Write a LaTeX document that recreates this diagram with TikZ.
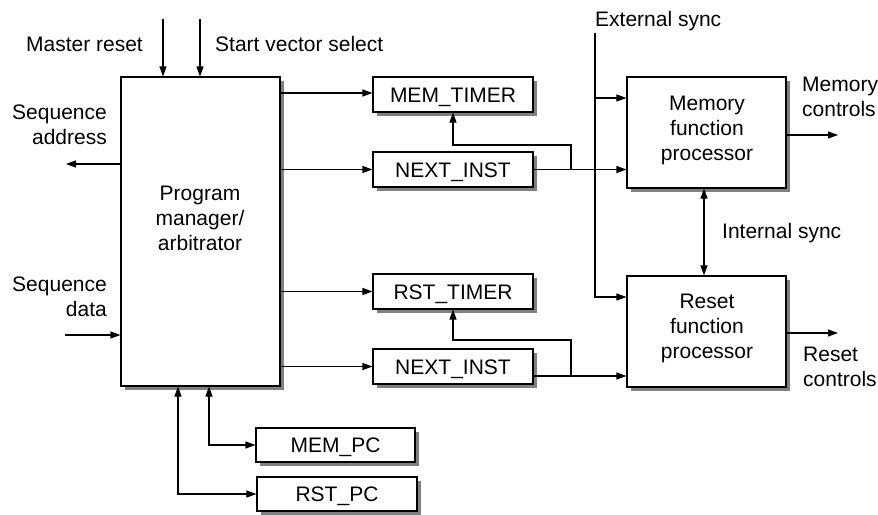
\documentclass[tikz,border=0pt]{standalone}
\usepackage{fontspec}
\setmainfont{Liberation Sans}
\usetikzlibrary{arrows.meta,shadows}
\begin{document}
\begin{tikzpicture}[x=1pt,y=-1pt,
  every node/.style={font=\fontsize{21}{25}\selectfont, inner sep=0pt},
  blk/.style={draw, line width=1.1pt, fill=white, text height=15pt, text depth=0pt,
    drop shadow={shadow xshift=3.5pt, shadow yshift=-3.5pt, fill=black!50, opacity=1}},
  txt/.style={align=center},
  wire/.style={line width=1.1pt},
  arr/.style={wire, -{Triangle[length=10pt,width=7pt]}},
  darr/.style={wire, {Triangle[length=10pt,width=7pt]}-{Triangle[length=10pt,width=7pt]}}]
\useasboundingbox (0,0) rectangle (878,514);

% blocks
\node[blk, minimum width=159pt, minimum height=309pt] (pm) at (200.5,231.5) {};
\node[txt] (pmt) at (200,218) {Program\\manager/\\arbitrator};
\node[blk, minimum width=160pt, minimum height=35pt] (memt) at (453,94.5) {MEM\_TIMER};
\node[blk, minimum width=160pt, minimum height=35pt] (ni1) at (453,169.5) {NEXT\_INST};
\node[blk, minimum width=160pt, minimum height=35pt] (rstt) at (453,291.5) {RST\_TIMER};
\node[blk, minimum width=160pt, minimum height=35pt] (ni2) at (453,366.5) {NEXT\_INST};
\node[blk, minimum width=159pt, minimum height=111pt] (mfp) at (706.5,132.5) {};
\node[txt] (mfpt) at (707,130.5) {Memory\\function\\processor};
\node[blk, minimum width=159pt, minimum height=111pt] (rfp) at (706.5,331.5) {};
\node[txt] (rfpt) at (707,328.5) {Reset\\function\\processor};
\node[blk, minimum width=159pt, minimum height=34pt] (mempc) at (335.5,445) {MEM\_PC};
\node[blk, minimum width=160pt, minimum height=34pt] (rstpc) at (337,494) {RST\_PC};

% labels
\node[anchor=base east] (lmr) at (143,51) {Master reset};
\node[anchor=base west] (lsv) at (215,51) {Start vector select};
\node[align=right, anchor=east] (lsa) at (107,124.5) {Sequence\\address};
\node[align=right, anchor=east] (lsd) at (107,297) {Sequence\\data};
\node[anchor=base west] (les) at (595,26.7) {External sync};
\node[anchor=base west] (lis) at (722,238) {Internal sync};
\node[align=left, anchor=west] (lmc) at (802,96.7) {Memory\\controls};
\node[align=left, anchor=west] (lrc) at (803,367) {Reset\\controls};

% free ends
\coordinate (mr) at (163,19);
\coordinate (sv) at (200,19);
\coordinate (sa) at (66,164);
\coordinate (sd) at (65,335);
\coordinate (es) at (595,33);
\coordinate (mc) at (838,135);
\coordinate (rc) at (838,333);
\coordinate (j1) at (571,169.5);
\coordinate (k1) at (571,145);
\coordinate (j2) at (571,376);
\coordinate (k2) at (571,340);

% connectors
\draw[arr] (mr) -- (mr |- pm.north);
\draw[arr] (sv) -- (sv |- pm.north);
\draw[arr] (pm.west |- sa) -- (sa);
\draw[arr] (sd) -- (pm.west |- sd);
\draw[arr] (pm.east |- 0,93) -- (memt.west |- 0,93);
\draw[arr] (pm.east |- ni1.west) -- (ni1.west);
\draw[arr] (ni1.east) -- (mfp.west |- ni1.east);
\draw[arr] (j1) -- (k1) -| (memt.south);
\draw[arr] (pm.east |- rstt.west) -- (rstt.west);
\draw[arr] (pm.east |- ni2.west) -- (ni2.west);
\draw[arr] (ni2.east |- j2) -- (rfp.west |- j2);
\draw[arr] (j2) -- (k2) -| (rstt.south);
\draw[arr] (es) |- (rfp.west |- 0,297);
\draw[arr] (es |- 0,98) -- (mfp.west |- 0,98);
\draw[arr] (mfp.east |- mc) -- (mc);
\draw[arr] (rfp.east |- rc) -- (rc);
\draw[darr] (mfp.south -| 704,0) -- (rfp.north -| 704,0);
\draw[darr] (pm.south -| 209,0) |- (mempc.west);
\draw[darr] (pm.south -| 178,0) |- (rstpc.west);
\end{tikzpicture}
\end{document}
